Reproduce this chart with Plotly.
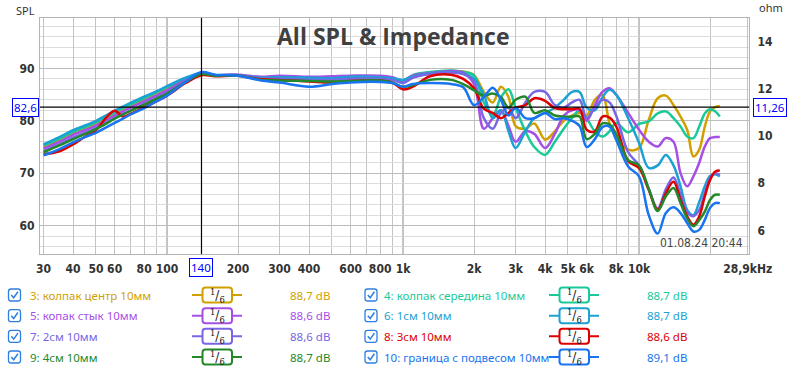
import math
import plotly.graph_objects as go

# ---------------- data ----------------
freq_hz = [30, 35, 40, 45, 50, 55, 60, 65, 70, 80,
           90, 100, 120, 140, 160, 200, 250, 300, 400, 500,
           600, 800, 900, 1000, 1100, 1300, 1600, 1800, 2000, 2200,
           2400, 2600, 2800, 3000, 3300, 3600, 4000, 4400, 4800, 5200,
           5600, 6000, 6500, 7000, 7500, 8000, 9000, 10000, 11000, 12000,
           13000, 14000, 15000, 16000, 17000, 18000, 19000, 20000, 21000, 22000]

spl_3 = [75.0, 76.3, 77.6, 78.5, 79.4, 80.4, 81.3, 82.1, 82.8, 84.0,
         85.1, 86.1, 88.0, 89.0, 88.7, 88.7, 88.1, 88.0, 87.9, 87.8,
         88.1, 88.1, 87.9, 87.5, 88.5, 89.2, 89.5, 89.4, 88.7, 85.5,
         83.5, 86.5, 84.5, 79.0, 78.5, 79.5, 76.4, 78.0, 80.0, 81.0,
         81.5, 81.0, 84.0, 85.0, 79.5, 76.8, 74.5, 74.8, 80.2, 84.3,
         84.8, 83.0, 80.8, 78.3, 73.2, 74.5, 78.9, 81.8, 82.6, 82.8]

spl_4 = [75.3, 76.6, 77.9, 78.8, 79.7, 80.7, 81.6, 82.4, 83.1, 84.3,
         85.4, 86.4, 88.1, 89.0, 88.7, 88.7, 88.1, 88.1, 88.0, 88.0,
         88.2, 88.2, 88.0, 87.6, 88.7, 89.3, 89.6, 89.3, 88.6, 83.5,
         81.0, 84.5, 86.0, 82.5, 78.0, 75.0, 73.5, 76.0, 78.5, 80.5,
         82.0, 80.5, 78.0, 77.0, 78.0, 79.6, 77.8, 79.4, 79.9, 81.4,
         81.8, 80.5, 78.9, 77.0, 76.7, 78.9, 81.4, 82.2, 81.8, 80.8]

spl_5 = [74.7, 76.0, 77.3, 78.2, 79.1, 80.1, 81.0, 81.8, 82.5, 83.7,
         84.8, 85.8, 87.8, 88.9, 88.7, 88.8, 88.4, 88.6, 88.4, 88.5,
         88.6, 88.6, 88.3, 87.7, 88.6, 89.1, 89.5, 89.2, 87.0, 78.5,
         80.5, 82.0, 79.0, 76.0, 78.0, 77.5, 74.8, 77.5, 81.0, 82.0,
         82.0, 80.0, 83.0, 85.5, 86.2, 85.0, 81.5, 78.3, 76.0, 75.1,
         76.7, 76.0, 70.0, 67.5, 69.4, 72.0, 75.1, 76.7, 76.9, 76.9]

spl_6 = [75.5, 76.9, 78.2, 79.1, 80.0, 81.0, 81.9, 82.7, 83.4, 84.6,
         85.6, 86.6, 88.2, 89.1, 88.7, 88.7, 88.2, 88.3, 88.2, 88.1,
         88.4, 88.3, 88.1, 87.8, 88.4, 89.0, 89.3, 89.0, 88.0, 85.0,
         80.5, 82.0, 78.0, 74.8, 78.0, 80.5, 81.5, 82.5, 84.0, 85.5,
         85.5, 82.5, 82.0, 84.5, 85.9, 85.0, 80.5, 75.8, 71.0, 71.5,
         73.5, 71.5, 67.5, 63.0, 62.0, 64.5, 67.5, 69.5, 69.8, 69.4]

spl_7 = [74.2, 75.5, 76.8, 77.7, 78.6, 79.6, 80.5, 81.3, 82.0, 83.2,
         84.3, 85.4, 87.5, 88.9, 88.7, 88.7, 88.0, 88.0, 87.8, 87.8,
         88.0, 88.0, 87.8, 87.2, 88.2, 88.9, 89.2, 88.9, 87.5, 80.5,
         78.5, 81.5, 82.5, 80.5, 83.5, 85.5, 85.5, 83.0, 82.5, 83.5,
         84.0, 80.5, 82.5, 84.0, 83.5, 81.0, 74.0, 71.5, 67.0, 63.3,
         67.0, 69.2, 65.9, 62.5, 61.8, 63.0, 66.2, 69.1, 70.0, 69.7]

spl_8 = [73.6, 74.2, 75.5, 77.0, 78.2, 80.5, 81.9, 80.8, 81.3, 82.6,
         83.7, 84.8, 87.2, 88.7, 88.5, 88.6, 87.9, 87.8, 87.5, 87.3,
         87.6, 87.7, 87.3, 86.0, 86.5, 88.5, 88.8, 88.0, 86.2, 82.3,
         81.5, 80.5, 81.5, 82.5, 83.0, 84.3, 83.8, 82.4, 82.2, 82.2,
         82.3, 78.3, 78.0, 80.8, 80.6, 79.0, 72.3, 71.0, 66.8, 63.0,
         66.2, 68.4, 64.9, 61.8, 60.2, 61.8, 65.6, 68.7, 70.3, 70.5]

spl_9 = [74.0, 75.3, 76.5, 77.5, 78.4, 79.4, 80.4, 81.2, 81.9, 83.1,
         84.2, 85.2, 87.4, 88.9, 88.6, 88.6, 87.8, 87.7, 87.6, 87.5,
         87.6, 87.7, 87.3, 86.5, 86.8, 87.8, 87.8, 87.0, 85.8, 84.8,
         85.2, 84.5, 82.5, 84.0, 84.6, 81.5, 82.0, 81.0, 80.8, 80.8,
         80.8, 76.5, 77.5, 79.5, 79.3, 77.5, 72.5, 71.5, 67.0, 62.8,
         65.6, 67.2, 64.3, 61.4, 59.9, 61.1, 62.7, 64.9, 65.9, 65.9]

spl_10 = [73.4, 74.6, 75.9, 76.9, 77.7, 78.7, 79.6, 80.4, 81.2, 82.4,
          83.7, 84.8, 87.4, 89.3, 88.8, 88.6, 87.7, 87.3, 86.5, 87.0,
          87.3, 87.4, 87.2, 86.5, 87.0, 87.2, 87.0, 86.4, 83.0, 84.5,
          86.3, 84.0, 81.0, 82.5, 80.5, 80.5, 81.5, 80.3, 80.5, 80.0,
          79.0, 75.0, 76.5, 78.8, 78.9, 76.4, 71.3, 69.4, 62.0, 58.5,
          62.4, 63.5, 62.4, 60.5, 58.9, 59.2, 61.1, 63.4, 64.3, 64.3]

series_names = ["3: колпак центр 10мм", "4: колпак середина 10мм",
                "5: копак стык 10мм", "6: 1см 10мм",
                "7: 2см 10мм", "8: 3см 10мм",
                "9: 4см 10мм", "10: граница с подвесом 10мм"]
series_levels = ["88,7 dB", "88,7 dB", "88,6 dB", "88,7 dB",
                 "88,6 dB", "88,6 dB", "88,7 dB", "89,1 dB"]
series_colors = ["#D1A000", "#19C998", "#A64FE6", "#1BA1D2",
                 "#7766E6", "#DD0000", "#22882A", "#1874F0"]

x_tick_vals = [30, 40, 50, 60, 80, 100, 200, 300, 400, 600, 800, 1000,
               2000, 3000, 4000, 5000, 6000, 8000, 10000, 28900]
x_tick_text = ["30", "40", "50", "60", "80", "100", "200", "300", "400", "600", "800", "1k",
               "2k", "3k", "4k", "5k", "6k", "8k", "10k", "28,9kHz"]
x_minor_vals = [70, 90, 500, 700, 900, 7000, 9000, 20000]
x_decades = [100, 1000, 10000]
spl_tick_vals = [60, 70, 80, 90]
spl_minor_vals = [v for v in range(56, 100, 2) if v % 10 != 0]
ohm_tick_vals = [6, 8, 10, 12, 14]
cursor_freq = 140
cursor_spl = 82.6
cursor_spl_text = "82,6"
cursor_ohm_text = "11,26"
date_text = "01.08.24 20:44"
title_text = "All SPL & Impedance"

# ---------------- layout geometry (pixels) ----------------
W, H = 800, 369
PL, PR, PT, PB = 40, 749, 18, 254   # plot area box


def X(px):
    return (px - PL) / (PR - PL)


def Y(py):
    return (PB - py) / (PB - PT)


x_left = math.log10(30) - 3.6 / 236.0
x_right = x_left + (PR - PL) / 236.0

TICK_FONT = dict(family="Liberation Sans Narrow, DejaVu Sans Condensed, sans-serif",
                 size=12, color="#333333", weight="bold")

fig = go.Figure()
all_spl = [spl_3, spl_4, spl_5, spl_6, spl_7, spl_8, spl_9, spl_10]
for name, col, vals in zip(series_names, series_colors, all_spl):
    fig.add_trace(go.Scatter(x=freq_hz, y=vals, mode="lines", name=name,
                             line=dict(color=col, width=2.5, shape="spline", smoothing=1.0),
                             hoverinfo="skip", showlegend=False))
# empty impedance trace so that the right-hand ohm axis is drawn
fig.add_trace(go.Scatter(x=[], y=[], yaxis="y2", mode="lines", showlegend=False,
                         hoverinfo="skip"))

shapes = []
for d in x_decades:
    shapes.append(dict(type="line", xref="x", yref="paper", x0=d, x1=d, y0=0, y1=1,
                       line=dict(color="#8a8a8a", width=1), layer="below"))
# cursor
shapes.append(dict(type="line", xref="x", yref="paper", x0=cursor_freq, x1=cursor_freq,
                   y0=0, y1=1, line=dict(color="black", width=1.2)))
shapes.append(dict(type="line", xref="paper", yref="y", x0=0, x1=1,
                   y0=cursor_spl, y1=cursor_spl, line=dict(color="black", width=1.2)))


def rrect_path(x0, y0, x1, y1, r):
    return (f"M {X(x0 + r)},{Y(y0)} L {X(x1 - r)},{Y(y0)} Q {X(x1)},{Y(y0)} {X(x1)},{Y(y0 + r)} "
            f"L {X(x1)},{Y(y1 - r)} Q {X(x1)},{Y(y1)} {X(x1 - r)},{Y(y1)} "
            f"L {X(x0 + r)},{Y(y1)} Q {X(x0)},{Y(y1)} {X(x0)},{Y(y1 - r)} "
            f"L {X(x0)},{Y(y0 + r)} Q {X(x0)},{Y(y0)} {X(x0 + r)},{Y(y0)} Z")


annotations = []
row_y = [295, 315.7, 336.3, 357]
check_x = [8.5, 365]
label_x = [28, 382]
filt_x = [192, 549]
value_x = [288, 645]
for i, (name, lvl, col) in enumerate(zip(series_names, series_levels, series_colors)):
    r, c = i // 2, i % 2
    cy = row_y[r]
    cx = check_x[c]
    # checkbox
    shapes.append(dict(type="path", xref="paper", yref="paper",
                       path=rrect_path(cx, cy - 6, cx + 12, cy + 6, 2.5),
                       line=dict(color="#2F7FE0", width=1.3), fillcolor="white"))
    shapes.append(dict(type="path", xref="paper", yref="paper",
                       path=f"M {X(cx + 2.8)},{Y(cy)} L {X(cx + 5.2)},{Y(cy + 2.8)} L {X(cx + 9.4)},{Y(cy - 3.2)}",
                       line=dict(color="#2F7FE0", width=1.5)))
    annotations.append(dict(xref="paper", yref="paper", x=X(label_x[c]), y=Y(cy),
                            xanchor="left", yanchor="middle", text=name, showarrow=False,
                            font=dict(family="Noto Sans, Open Sans, sans-serif", size=11.5, color=col)))
    fx = filt_x[c]
    shapes.append(dict(type="line", xref="paper", yref="paper", x0=X(fx), x1=X(fx + 50),
                       y0=Y(cy), y1=Y(cy), line=dict(color=col, width=2)))
    shapes.append(dict(type="path", xref="paper", yref="paper",
                       path=rrect_path(fx + 10.5, cy - 7.5, fx + 40, cy + 7.5, 3),
                       line=dict(color=col, width=2), fillcolor="white"))
    annotations.append(dict(xref="paper", yref="paper", x=X(fx + 25.3), y=Y(cy + 0.5),
                            xanchor="center", yanchor="middle",
                            text="<sup>1</sup>/<sub>6</sub>", showarrow=False,
                            font=dict(family="DejaVu Serif, serif", size=12, color="#111111")))
    annotations.append(dict(xref="paper", yref="paper", x=X(value_x[c]), y=Y(cy),
                            xanchor="left", yanchor="middle", text=lvl, showarrow=False,
                            font=dict(family="Noto Sans, Open Sans, sans-serif", size=11.5, color=col)))

# title and texts
annotations.append(dict(xref="paper", yref="paper", x=X(393), y=Y(36), xanchor="center",
                        yanchor="middle", text=title_text, showarrow=False,
                        font=dict(family="Open Sans, sans-serif", size=23, color="#404040", weight="bold")))
annotations.append(dict(xref="paper", yref="paper", x=X(37), y=Y(10), xanchor="right",
                        yanchor="middle", text="SPL", showarrow=False,
                        font=dict(family="Noto Sans, sans-serif", size=11, color="#333333")))
annotations.append(dict(xref="paper", yref="paper", x=X(757), y=Y(8), xanchor="left",
                        yanchor="middle", text="ohm", showarrow=False,
                        font=dict(family="Noto Sans, sans-serif", size=11, color="#333333")))
annotations.append(dict(xref="paper", yref="paper", x=X(745), y=Y(243), xanchor="right",
                        yanchor="middle", text=date_text, showarrow=False,
                        font=dict(family="DejaVu Sans Condensed, Liberation Sans Narrow, sans-serif",
                                  size=12, color="#444444")))
BOX_FONT = dict(family="Noto Sans, sans-serif", size=11.5, color="#0000FF")
annotations.append(dict(xref="paper", yref="y", x=X(39), y=cursor_spl, xanchor="right",
                        yanchor="middle", text=cursor_spl_text, showarrow=False, font=BOX_FONT,
                        bgcolor="white", bordercolor="#0000FF", borderwidth=1, borderpad=1))
annotations.append(dict(xref="paper", yref="y", x=X(753), y=cursor_spl, xanchor="left",
                        yanchor="middle", text=cursor_ohm_text, showarrow=False, font=BOX_FONT,
                        bgcolor="white", bordercolor="#0000FF", borderwidth=1, borderpad=1))
annotations.append(dict(xref="x", yref="paper", x=math.log10(cursor_freq), y=Y(267),
                        xanchor="center", yanchor="middle", text=str(cursor_freq), showarrow=False,
                        font=BOX_FONT, bgcolor="white", bordercolor="#0000FF", borderwidth=1,
                        borderpad=1))

fig.update_layout(
    width=W, height=H,
    margin=dict(l=PL, r=W - PR, t=PT, b=H - PB, autoexpand=False),
    paper_bgcolor="white", plot_bgcolor="white",
    showlegend=False,
    shapes=shapes, annotations=annotations,
    xaxis=dict(type="log", range=[x_left, x_right], tickvals=x_tick_vals, ticktext=x_tick_text,
               showgrid=True, gridcolor="#c4c4c4", gridwidth=1,
               minor=dict(tickvals=x_minor_vals, showgrid=True, gridcolor="#c4c4c4", ticks=""),
               ticks="outside", ticklen=4, tickcolor="rgba(0,0,0,0)",
               tickfont=TICK_FONT, showline=True, mirror=True, linecolor="#b4b4b4",
               zeroline=False),
    yaxis=dict(range=[54.6, 99.6], tickvals=spl_tick_vals, showgrid=True, gridcolor="#bcbcbc",
               minor=dict(tickvals=spl_minor_vals, showgrid=True, gridcolor="#dcdcdc", ticks=""),
               ticks="outside", ticklen=2, tickcolor="rgba(0,0,0,0)",
               tickfont=TICK_FONT, showline=True, mirror=True, linecolor="#b4b4b4",
               zeroline=False),
    yaxis2=dict(range=[5, 15], overlaying="y", side="right", tickvals=ohm_tick_vals,
                showgrid=False, zeroline=False, ticks="outside", ticklen=5,
                tickcolor="rgba(0,0,0,0)", tickfont=TICK_FONT, showline=False),
)

fig.write_html("out.html", config={"displayModeBar": False},
               post_script="document.body.style.margin='0';document.body.style.overflow='hidden';")
